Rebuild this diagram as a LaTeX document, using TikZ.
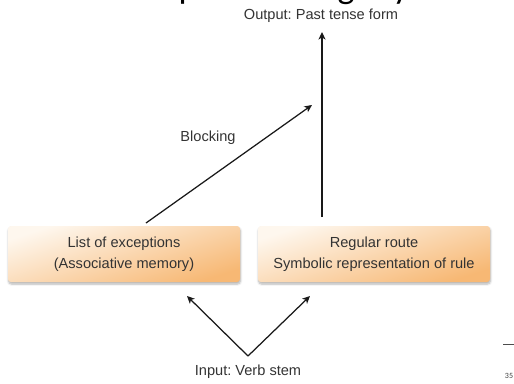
\documentclass[tikz,border=0pt]{standalone}
\usepackage{fontspec}
\setmainfont{Liberation Sans}
\newfontfamily\slidefont{Carlito}
\usetikzlibrary{arrows.meta,shadows.blur}
\frenchspacing

\definecolor{txt}{HTML}{333333}
\definecolor{boxlight}{HTML}{FEF7EE}
\definecolor{boxdark}{HTML}{F7B874}

\tikzset{
  label/.style={text=txt, font=\fontsize{14.6}{20.5}\selectfont, align=center},
  routebox/.style={rounded corners=3pt, minimum width=232pt, minimum height=56pt,
    inner sep=0pt, top color=boxlight, bottom color=boxdark, shading angle=18,
    blur shadow={shadow blur steps=6, shadow xshift=0.5pt, shadow yshift=-2pt, shadow opacity=30},
    label},
  arr/.style={draw=black!90, line width=1.25pt,
    -{Stealth[length=7.5pt, width=7pt, inset=2pt]}},
}

\begin{document}
\begin{tikzpicture}[x=1pt, y=-1pt]
  \useasboundingbox (0,0) rectangle (514,383);

  % lower part of the slide title, cut off by the top edge
  \begin{scope}
    \clip (0,0) rectangle (514,383);
    \node[anchor=base, font=\slidefont\fontsize{36}{40}\selectfont, inner sep=0pt] at (188,-2) {p};
    \node[anchor=base, font=\slidefont\fontsize{36}{40}\selectfont, inner sep=0pt] at (346,-2) {g};
    \node[anchor=base, font=\slidefont\fontsize{36}{40}\selectfont, inner sep=0pt] at (401,-2) {y};
  \end{scope}

  % the two routes
  \node[routebox] (lbox) at (124,254) {List of exceptions\\(Associative memory)};
  \node[routebox] (rbox) at (374,254) {Regular route\\Symbolic representation of rule};

  % input and output
  \node[label] (out) at (321,16) {Output: Past tense form};
  \node[label] (inp) at (248,372) {Input: Verb stem};
  \node[label] (blk) at (208,138) {Blocking};

  \coordinate (v) at (248,356);
  \coordinate (ltip) at (187,296);
  \coordinate (rtip) at (310,296);
  \coordinate (rstart) at (322,217);
  \coordinate (rend) at (322,32);
  \coordinate (bstart) at (146,223);
  \coordinate (bend) at (312,105);

  % connectors
  \draw[arr] (v) -- (ltip);
  \draw[arr] (v) -- (rtip);
  \draw[arr] (rstart) -- (rend);
  \draw[arr] (bstart) -- (bend);

  % page number
  \draw[black!70, line width=0.8pt] (503,344) -- (514,344);
  \node[font=\slidefont\fontsize{8}{9}\selectfont, text=black!75] (pg) at (509,376) {35};
\end{tikzpicture}
\end{document}
